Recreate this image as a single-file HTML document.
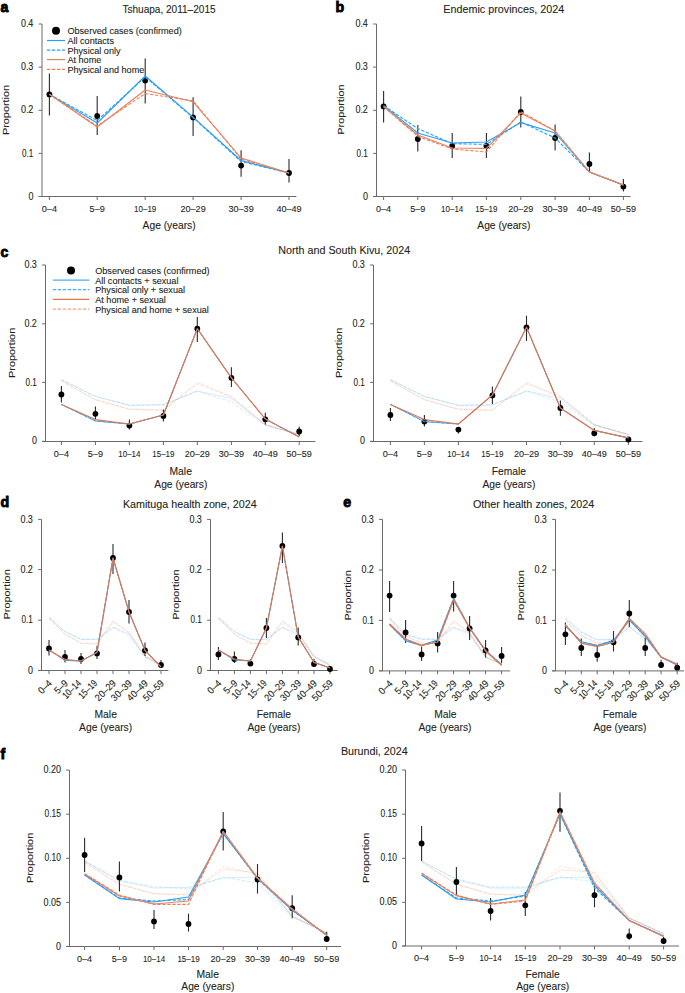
<!DOCTYPE html><html><head><meta charset="utf-8"><style>html,body{margin:0;padding:0;background:#fff;width:685px;height:993px;overflow:hidden}svg{display:block}text{font-family:"Liberation Sans",sans-serif;fill:#231f20;stroke:#231f20;stroke-width:0.1px}text.L{fill:#000;stroke:#000;stroke-width:0.85px}</style></head><body>
<svg width="685" height="993" viewBox="0 0 685 993">
<text x="0.60" y="11.60" font-size="14.2" font-weight="bold" fill="#000" class="L">a</text>
<text x="335.60" y="11.60" font-size="14.2" font-weight="bold" fill="#000" class="L">b</text>
<text x="0.60" y="257.40" font-size="14.2" font-weight="bold" fill="#000" class="L">c</text>
<text x="0.40" y="506.80" font-size="14.2" font-weight="bold" fill="#000" class="L">d</text>
<text x="343.20" y="506.80" font-size="14.2" font-weight="bold" fill="#000" class="L">e</text>
<text x="0.60" y="759.00" font-size="14.2" font-weight="bold" fill="#000" class="L">f</text>
<text x="169.00" y="13.00" font-size="10.8" text-anchor="middle" textLength="93.20" lengthAdjust="spacingAndGlyphs">Tshuapa, 2011–2015</text>
<text x="503.80" y="12.90" font-size="10.8" text-anchor="middle" textLength="121.00" lengthAdjust="spacingAndGlyphs">Endemic provinces, 2024</text>
<text x="344.20" y="254.30" font-size="10.8" text-anchor="middle" textLength="131.80" lengthAdjust="spacingAndGlyphs">North and South Kivu, 2024</text>
<text x="189.80" y="507.90" font-size="10.8" text-anchor="middle" textLength="133.80" lengthAdjust="spacingAndGlyphs">Kamituga health zone, 2024</text>
<text x="533.60" y="508.30" font-size="10.8" text-anchor="middle" textLength="121.40" lengthAdjust="spacingAndGlyphs">Other health zones, 2024</text>
<text x="374.30" y="754.60" font-size="10.8" text-anchor="middle" textLength="66.70" lengthAdjust="spacingAndGlyphs">Burundi, 2024</text>
<line x1="42.00" y1="24.00" x2="42.00" y2="196.50" stroke="#6a6a6a" stroke-width="1"/>
<line x1="38.60" y1="24.00" x2="42.00" y2="24.00" stroke="#6a6a6a" stroke-width="1"/>
<text x="33.40" y="27.10" font-size="10.1" text-anchor="end" textLength="12.51" lengthAdjust="spacingAndGlyphs">0.4</text>
<line x1="38.60" y1="67.10" x2="42.00" y2="67.10" stroke="#6a6a6a" stroke-width="1"/>
<text x="33.40" y="70.20" font-size="10.1" text-anchor="end" textLength="12.51" lengthAdjust="spacingAndGlyphs">0.3</text>
<line x1="38.60" y1="110.30" x2="42.00" y2="110.30" stroke="#6a6a6a" stroke-width="1"/>
<text x="33.40" y="113.40" font-size="10.1" text-anchor="end" textLength="12.51" lengthAdjust="spacingAndGlyphs">0.2</text>
<line x1="38.60" y1="153.40" x2="42.00" y2="153.40" stroke="#6a6a6a" stroke-width="1"/>
<text x="33.40" y="156.50" font-size="10.1" text-anchor="end" textLength="11.31" lengthAdjust="spacingAndGlyphs">0.1</text>
<line x1="38.60" y1="196.50" x2="42.00" y2="196.50" stroke="#6a6a6a" stroke-width="1"/>
<text x="33.40" y="199.60" font-size="10.1" text-anchor="end" textLength="5.00" lengthAdjust="spacingAndGlyphs">0</text>
<line x1="38.60" y1="196.50" x2="296.40" y2="196.50" stroke="#6a6a6a" stroke-width="1"/>
<line x1="49.40" y1="196.50" x2="49.40" y2="200.00" stroke="#6a6a6a" stroke-width="1"/>
<line x1="97.20" y1="196.50" x2="97.20" y2="200.00" stroke="#6a6a6a" stroke-width="1"/>
<line x1="145.20" y1="196.50" x2="145.20" y2="200.00" stroke="#6a6a6a" stroke-width="1"/>
<line x1="193.10" y1="196.50" x2="193.10" y2="200.00" stroke="#6a6a6a" stroke-width="1"/>
<line x1="241.10" y1="196.50" x2="241.10" y2="200.00" stroke="#6a6a6a" stroke-width="1"/>
<line x1="289.00" y1="196.50" x2="289.00" y2="200.00" stroke="#6a6a6a" stroke-width="1"/>
<text x="49.40" y="211.70" font-size="9.8" text-anchor="middle" textLength="15.21" lengthAdjust="spacingAndGlyphs">0–4</text>
<text x="97.20" y="211.70" font-size="9.8" text-anchor="middle" textLength="15.21" lengthAdjust="spacingAndGlyphs">5–9</text>
<text x="145.20" y="211.70" font-size="9.8" text-anchor="middle" textLength="22.22" lengthAdjust="spacingAndGlyphs">10–19</text>
<text x="193.10" y="211.70" font-size="9.8" text-anchor="middle" textLength="25.22" lengthAdjust="spacingAndGlyphs">20–29</text>
<text x="241.10" y="211.70" font-size="9.8" text-anchor="middle" textLength="25.22" lengthAdjust="spacingAndGlyphs">30–39</text>
<text x="289.00" y="211.70" font-size="9.8" text-anchor="middle" textLength="25.22" lengthAdjust="spacingAndGlyphs">40–49</text>
<text x="9.10" y="110.00" font-size="9.9" text-anchor="middle" textLength="50.20" lengthAdjust="spacingAndGlyphs" transform="rotate(-90 9.10 110.00)">Proportion</text>
<text x="169.10" y="228.60" font-size="10" text-anchor="middle" textLength="53.00" lengthAdjust="spacingAndGlyphs">Age (years)</text>
<line x1="49.40" y1="73.40" x2="49.40" y2="115.40" stroke="#2b2b2b" stroke-width="1.1"/>
<line x1="97.20" y1="96.10" x2="97.20" y2="134.90" stroke="#2b2b2b" stroke-width="1.1"/>
<line x1="145.20" y1="58.40" x2="145.20" y2="103.60" stroke="#2b2b2b" stroke-width="1.1"/>
<line x1="193.10" y1="97.20" x2="193.10" y2="136.00" stroke="#2b2b2b" stroke-width="1.1"/>
<line x1="241.10" y1="150.30" x2="241.10" y2="176.70" stroke="#2b2b2b" stroke-width="1.1"/>
<line x1="289.00" y1="159.00" x2="289.00" y2="182.40" stroke="#2b2b2b" stroke-width="1.1"/>
<circle cx="49.40" cy="94.40" r="2.9" fill="#000"/>
<circle cx="97.20" cy="116.00" r="2.9" fill="#000"/>
<circle cx="145.20" cy="80.60" r="2.9" fill="#000"/>
<circle cx="193.10" cy="117.40" r="2.9" fill="#000"/>
<circle cx="241.10" cy="165.60" r="2.9" fill="#000"/>
<circle cx="289.00" cy="173.00" r="2.9" fill="#000"/>
<polyline points="49.40,94.40 97.20,123.00 145.20,76.00 193.10,117.20 241.10,160.50 289.00,173.00" fill="none" stroke="#2a9ff0" stroke-width="1.1" stroke-linejoin="round"/>
<polyline points="49.40,94.40 97.20,120.50 145.20,77.00 193.10,117.60 241.10,161.50 289.00,173.00" fill="none" stroke="#2a9ff0" stroke-width="1.1" stroke-dasharray="3.4,1.6" stroke-linejoin="round"/>
<polyline points="49.40,94.40 97.20,127.00 145.20,90.00 193.10,101.80 241.10,158.00 289.00,173.00" fill="none" stroke="#e8805c" stroke-width="1.1" stroke-linejoin="round"/>
<polyline points="49.40,94.40 97.20,126.00 145.20,93.60 193.10,100.80 241.10,159.00 289.00,173.00" fill="none" stroke="#e8805c" stroke-width="1.1" stroke-dasharray="3.4,1.6" stroke-linejoin="round"/>
<circle cx="56" cy="30.8" r="4" fill="#000"/>
<text x="67.40" y="34.20" font-size="9" textLength="114.39" lengthAdjust="spacingAndGlyphs">Observed cases (confirmed)</text>
<line x1="47" y1="40.5" x2="65" y2="40.5" stroke="#2a9ff0" stroke-width="1.2"/>
<text x="67.40" y="43.90" font-size="9" textLength="46.57" lengthAdjust="spacingAndGlyphs">All contacts</text>
<line x1="47" y1="50.2" x2="65" y2="50.2" stroke="#2a9ff0" stroke-width="1.2" stroke-dasharray="3.4,1.6"/>
<text x="67.40" y="53.60" font-size="9" textLength="53.15" lengthAdjust="spacingAndGlyphs">Physical only</text>
<line x1="47" y1="59.6" x2="65" y2="59.6" stroke="#e8805c" stroke-width="1.2"/>
<text x="67.40" y="63.00" font-size="9" textLength="33.92" lengthAdjust="spacingAndGlyphs">At home</text>
<line x1="47" y1="69.4" x2="65" y2="69.4" stroke="#e8805c" stroke-width="1.2" stroke-dasharray="3.4,1.6"/>
<text x="67.40" y="72.80" font-size="9" textLength="76.95" lengthAdjust="spacingAndGlyphs">Physical and home</text>
<line x1="376.50" y1="24.00" x2="376.50" y2="196.50" stroke="#6a6a6a" stroke-width="1"/>
<line x1="373.10" y1="24.00" x2="376.50" y2="24.00" stroke="#6a6a6a" stroke-width="1"/>
<text x="367.90" y="27.10" font-size="10.1" text-anchor="end" textLength="12.51" lengthAdjust="spacingAndGlyphs">0.4</text>
<line x1="373.10" y1="67.10" x2="376.50" y2="67.10" stroke="#6a6a6a" stroke-width="1"/>
<text x="367.90" y="70.20" font-size="10.1" text-anchor="end" textLength="12.51" lengthAdjust="spacingAndGlyphs">0.3</text>
<line x1="373.10" y1="110.30" x2="376.50" y2="110.30" stroke="#6a6a6a" stroke-width="1"/>
<text x="367.90" y="113.40" font-size="10.1" text-anchor="end" textLength="12.51" lengthAdjust="spacingAndGlyphs">0.2</text>
<line x1="373.10" y1="153.40" x2="376.50" y2="153.40" stroke="#6a6a6a" stroke-width="1"/>
<text x="367.90" y="156.50" font-size="10.1" text-anchor="end" textLength="11.31" lengthAdjust="spacingAndGlyphs">0.1</text>
<line x1="373.10" y1="196.50" x2="376.50" y2="196.50" stroke="#6a6a6a" stroke-width="1"/>
<text x="367.90" y="199.60" font-size="10.1" text-anchor="end" textLength="5.00" lengthAdjust="spacingAndGlyphs">0</text>
<line x1="373.10" y1="196.50" x2="630.60" y2="196.50" stroke="#6a6a6a" stroke-width="1"/>
<line x1="383.60" y1="196.50" x2="383.60" y2="200.00" stroke="#6a6a6a" stroke-width="1"/>
<line x1="417.80" y1="196.50" x2="417.80" y2="200.00" stroke="#6a6a6a" stroke-width="1"/>
<line x1="452.20" y1="196.50" x2="452.20" y2="200.00" stroke="#6a6a6a" stroke-width="1"/>
<line x1="486.40" y1="196.50" x2="486.40" y2="200.00" stroke="#6a6a6a" stroke-width="1"/>
<line x1="520.80" y1="196.50" x2="520.80" y2="200.00" stroke="#6a6a6a" stroke-width="1"/>
<line x1="555.10" y1="196.50" x2="555.10" y2="200.00" stroke="#6a6a6a" stroke-width="1"/>
<line x1="589.40" y1="196.50" x2="589.40" y2="200.00" stroke="#6a6a6a" stroke-width="1"/>
<line x1="623.40" y1="196.50" x2="623.40" y2="200.00" stroke="#6a6a6a" stroke-width="1"/>
<text x="383.60" y="211.70" font-size="9.8" text-anchor="middle" textLength="15.21" lengthAdjust="spacingAndGlyphs">0–4</text>
<text x="417.80" y="211.70" font-size="9.8" text-anchor="middle" textLength="15.21" lengthAdjust="spacingAndGlyphs">5–9</text>
<text x="452.20" y="211.70" font-size="9.8" text-anchor="middle" textLength="22.22" lengthAdjust="spacingAndGlyphs">10–14</text>
<text x="486.40" y="211.70" font-size="9.8" text-anchor="middle" textLength="22.22" lengthAdjust="spacingAndGlyphs">15–19</text>
<text x="520.80" y="211.70" font-size="9.8" text-anchor="middle" textLength="25.22" lengthAdjust="spacingAndGlyphs">20–29</text>
<text x="555.10" y="211.70" font-size="9.8" text-anchor="middle" textLength="25.22" lengthAdjust="spacingAndGlyphs">30–39</text>
<text x="589.40" y="211.70" font-size="9.8" text-anchor="middle" textLength="25.22" lengthAdjust="spacingAndGlyphs">40–49</text>
<text x="623.40" y="211.70" font-size="9.8" text-anchor="middle" textLength="25.22" lengthAdjust="spacingAndGlyphs">50–59</text>
<text x="344.00" y="109.60" font-size="9.9" text-anchor="middle" textLength="50.20" lengthAdjust="spacingAndGlyphs" transform="rotate(-90 344.00 109.60)">Proportion</text>
<text x="503.80" y="228.60" font-size="10" text-anchor="middle" textLength="53.00" lengthAdjust="spacingAndGlyphs">Age (years)</text>
<line x1="383.60" y1="91.00" x2="383.60" y2="122.60" stroke="#2b2b2b" stroke-width="1.1"/>
<line x1="417.80" y1="125.00" x2="417.80" y2="151.60" stroke="#2b2b2b" stroke-width="1.1"/>
<line x1="452.20" y1="133.00" x2="452.20" y2="158.00" stroke="#2b2b2b" stroke-width="1.1"/>
<line x1="486.40" y1="133.00" x2="486.40" y2="158.00" stroke="#2b2b2b" stroke-width="1.1"/>
<line x1="520.80" y1="96.60" x2="520.80" y2="127.40" stroke="#2b2b2b" stroke-width="1.1"/>
<line x1="555.10" y1="124.40" x2="555.10" y2="150.40" stroke="#2b2b2b" stroke-width="1.1"/>
<line x1="589.40" y1="152.40" x2="589.40" y2="171.00" stroke="#2b2b2b" stroke-width="1.1"/>
<line x1="623.40" y1="179.00" x2="623.40" y2="191.60" stroke="#2b2b2b" stroke-width="1.1"/>
<circle cx="383.60" cy="106.40" r="2.9" fill="#000"/>
<circle cx="417.80" cy="139.00" r="2.9" fill="#000"/>
<circle cx="452.20" cy="146.00" r="2.9" fill="#000"/>
<circle cx="486.40" cy="146.00" r="2.9" fill="#000"/>
<circle cx="520.80" cy="112.00" r="2.9" fill="#000"/>
<circle cx="555.10" cy="138.00" r="2.9" fill="#000"/>
<circle cx="589.40" cy="164.00" r="2.9" fill="#000"/>
<circle cx="623.40" cy="186.60" r="2.9" fill="#000"/>
<polyline points="383.60,105.60 417.80,133.00 452.20,143.00 486.40,142.00 520.80,122.60 555.10,133.00 589.40,172.00 623.40,185.00" fill="none" stroke="#2a9ff0" stroke-width="1.1" stroke-linejoin="round"/>
<polyline points="383.60,105.60 417.80,128.60 452.20,143.60 486.40,144.40 520.80,122.00 555.10,138.00 589.40,172.00 623.40,185.00" fill="none" stroke="#2a9ff0" stroke-width="1.1" stroke-dasharray="3.4,1.6" stroke-linejoin="round"/>
<polyline points="383.60,106.60 417.80,135.00 452.20,148.00 486.40,148.40 520.80,113.00 555.10,131.00 589.40,172.00 623.40,185.00" fill="none" stroke="#e8805c" stroke-width="1.1" stroke-linejoin="round"/>
<polyline points="383.60,106.60 417.80,136.40 452.20,149.00 486.40,152.00 520.80,111.60 555.10,131.00 589.40,172.00 623.40,185.00" fill="none" stroke="#e8805c" stroke-width="1.1" stroke-dasharray="3.4,1.6" stroke-linejoin="round"/>
<line x1="45.50" y1="265.00" x2="45.50" y2="441.50" stroke="#6a6a6a" stroke-width="1"/>
<line x1="42.10" y1="265.00" x2="45.50" y2="265.00" stroke="#6a6a6a" stroke-width="1"/>
<text x="36.90" y="268.10" font-size="10.1" text-anchor="end" textLength="12.51" lengthAdjust="spacingAndGlyphs">0.3</text>
<line x1="42.10" y1="323.80" x2="45.50" y2="323.80" stroke="#6a6a6a" stroke-width="1"/>
<text x="36.90" y="326.90" font-size="10.1" text-anchor="end" textLength="12.51" lengthAdjust="spacingAndGlyphs">0.2</text>
<line x1="42.10" y1="382.40" x2="45.50" y2="382.40" stroke="#6a6a6a" stroke-width="1"/>
<text x="36.90" y="385.50" font-size="10.1" text-anchor="end" textLength="11.31" lengthAdjust="spacingAndGlyphs">0.1</text>
<line x1="42.10" y1="441.30" x2="45.50" y2="441.30" stroke="#6a6a6a" stroke-width="1"/>
<text x="36.90" y="444.40" font-size="10.1" text-anchor="end" textLength="5.00" lengthAdjust="spacingAndGlyphs">0</text>
<line x1="42.10" y1="441.50" x2="315.30" y2="441.50" stroke="#6a6a6a" stroke-width="1"/>
<line x1="61.40" y1="441.50" x2="61.40" y2="445.00" stroke="#6a6a6a" stroke-width="1"/>
<line x1="95.40" y1="441.50" x2="95.40" y2="445.00" stroke="#6a6a6a" stroke-width="1"/>
<line x1="129.40" y1="441.50" x2="129.40" y2="445.00" stroke="#6a6a6a" stroke-width="1"/>
<line x1="163.40" y1="441.50" x2="163.40" y2="445.00" stroke="#6a6a6a" stroke-width="1"/>
<line x1="197.30" y1="441.50" x2="197.30" y2="445.00" stroke="#6a6a6a" stroke-width="1"/>
<line x1="231.40" y1="441.50" x2="231.40" y2="445.00" stroke="#6a6a6a" stroke-width="1"/>
<line x1="265.30" y1="441.50" x2="265.30" y2="445.00" stroke="#6a6a6a" stroke-width="1"/>
<line x1="299.20" y1="441.50" x2="299.20" y2="445.00" stroke="#6a6a6a" stroke-width="1"/>
<text x="61.40" y="456.70" font-size="9.8" text-anchor="middle" textLength="15.21" lengthAdjust="spacingAndGlyphs">0–4</text>
<text x="95.40" y="456.70" font-size="9.8" text-anchor="middle" textLength="15.21" lengthAdjust="spacingAndGlyphs">5–9</text>
<text x="129.40" y="456.70" font-size="9.8" text-anchor="middle" textLength="22.22" lengthAdjust="spacingAndGlyphs">10–14</text>
<text x="163.40" y="456.70" font-size="9.8" text-anchor="middle" textLength="22.22" lengthAdjust="spacingAndGlyphs">15–19</text>
<text x="197.30" y="456.70" font-size="9.8" text-anchor="middle" textLength="25.22" lengthAdjust="spacingAndGlyphs">20–29</text>
<text x="231.40" y="456.70" font-size="9.8" text-anchor="middle" textLength="25.22" lengthAdjust="spacingAndGlyphs">30–39</text>
<text x="265.30" y="456.70" font-size="9.8" text-anchor="middle" textLength="25.22" lengthAdjust="spacingAndGlyphs">40–49</text>
<text x="299.20" y="456.70" font-size="9.8" text-anchor="middle" textLength="25.22" lengthAdjust="spacingAndGlyphs">50–59</text>
<text x="14.70" y="352.90" font-size="9.9" text-anchor="middle" textLength="50.20" lengthAdjust="spacingAndGlyphs" transform="rotate(-90 14.70 352.90)">Proportion</text>
<text x="180.70" y="475.00" font-size="10" text-anchor="middle" textLength="22.40" lengthAdjust="spacingAndGlyphs">Male</text>
<text x="180.80" y="487.90" font-size="10" text-anchor="middle" textLength="53.00" lengthAdjust="spacingAndGlyphs">Age (years)</text>
<polyline points="61.40,379.60 95.40,396.60 129.40,405.30 163.40,404.80 197.30,391.00 231.40,398.50 265.30,425.00 299.20,434.50" fill="none" stroke="#2a9ff0" stroke-width="1.0" stroke-opacity="0.2" stroke-linejoin="round"/>
<polyline points="61.40,379.60 95.40,396.20 129.40,405.30 163.40,404.80 197.30,391.00 231.40,402.00 265.30,425.50 299.20,434.50" fill="none" stroke="#2a9ff0" stroke-width="1.0" stroke-dasharray="3.4,1.6" stroke-opacity="0.2" stroke-linejoin="round"/>
<polyline points="61.40,380.80 95.40,399.50 129.40,409.00 163.40,410.00 197.30,382.60 231.40,396.50 265.30,424.50 299.20,434.50" fill="none" stroke="#e8805c" stroke-width="1.0" stroke-opacity="0.2" stroke-linejoin="round"/>
<polyline points="61.40,380.80 95.40,400.00 129.40,409.50 163.40,410.50 197.30,384.00 231.40,397.00 265.30,424.50 299.20,434.50" fill="none" stroke="#e8805c" stroke-width="1.0" stroke-dasharray="3.4,1.6" stroke-opacity="0.2" stroke-linejoin="round"/>
<line x1="61.40" y1="386.00" x2="61.40" y2="402.40" stroke="#2b2b2b" stroke-width="1.1"/>
<line x1="95.40" y1="406.40" x2="95.40" y2="420.00" stroke="#2b2b2b" stroke-width="1.1"/>
<line x1="129.40" y1="419.60" x2="129.40" y2="429.60" stroke="#2b2b2b" stroke-width="1.1"/>
<line x1="163.40" y1="409.60" x2="163.40" y2="421.60" stroke="#2b2b2b" stroke-width="1.1"/>
<line x1="197.30" y1="317.00" x2="197.30" y2="342.00" stroke="#2b2b2b" stroke-width="1.1"/>
<line x1="231.40" y1="367.20" x2="231.40" y2="387.00" stroke="#2b2b2b" stroke-width="1.1"/>
<line x1="265.30" y1="412.80" x2="265.30" y2="424.50" stroke="#2b2b2b" stroke-width="1.1"/>
<line x1="299.20" y1="426.80" x2="299.20" y2="436.00" stroke="#2b2b2b" stroke-width="1.1"/>
<circle cx="61.40" cy="394.50" r="2.9" fill="#000"/>
<circle cx="95.40" cy="413.80" r="2.9" fill="#000"/>
<circle cx="129.40" cy="425.60" r="2.9" fill="#000"/>
<circle cx="163.40" cy="416.00" r="2.9" fill="#000"/>
<circle cx="197.30" cy="328.70" r="2.9" fill="#000"/>
<circle cx="231.40" cy="377.80" r="2.9" fill="#000"/>
<circle cx="265.30" cy="419.30" r="2.9" fill="#000"/>
<circle cx="299.20" cy="431.50" r="2.9" fill="#000"/>
<polyline points="61.40,404.40 95.40,421.00 129.40,424.00 163.40,415.00 197.30,328.70 231.40,377.80 265.30,419.00 299.20,436.90" fill="none" stroke="#2a9ff0" stroke-width="0.85" stroke-dasharray="3.4,1.6" stroke-linejoin="round"/>
<polyline points="61.40,404.40 95.40,421.00 129.40,424.00 163.40,415.00 197.30,328.70 231.40,377.80 265.30,419.00 299.20,436.90" fill="none" stroke="#2a9ff0" stroke-width="0.85" stroke-linejoin="round"/>
<polyline points="61.40,404.40 95.40,419.60 129.40,424.00 163.40,415.00 197.30,328.70 231.40,377.80 265.30,419.00 299.20,436.90" fill="none" stroke="#e2764f" stroke-width="1.15" stroke-linejoin="round"/>
<line x1="373.50" y1="265.00" x2="373.50" y2="441.50" stroke="#6a6a6a" stroke-width="1"/>
<line x1="370.10" y1="265.00" x2="373.50" y2="265.00" stroke="#6a6a6a" stroke-width="1"/>
<text x="364.90" y="268.10" font-size="10.1" text-anchor="end" textLength="12.51" lengthAdjust="spacingAndGlyphs">0.3</text>
<line x1="370.10" y1="323.80" x2="373.50" y2="323.80" stroke="#6a6a6a" stroke-width="1"/>
<text x="364.90" y="326.90" font-size="10.1" text-anchor="end" textLength="12.51" lengthAdjust="spacingAndGlyphs">0.2</text>
<line x1="370.10" y1="382.40" x2="373.50" y2="382.40" stroke="#6a6a6a" stroke-width="1"/>
<text x="364.90" y="385.50" font-size="10.1" text-anchor="end" textLength="11.31" lengthAdjust="spacingAndGlyphs">0.1</text>
<line x1="370.10" y1="441.30" x2="373.50" y2="441.30" stroke="#6a6a6a" stroke-width="1"/>
<text x="364.90" y="444.40" font-size="10.1" text-anchor="end" textLength="5.00" lengthAdjust="spacingAndGlyphs">0</text>
<line x1="370.10" y1="441.50" x2="642.50" y2="441.50" stroke="#6a6a6a" stroke-width="1"/>
<line x1="390.40" y1="441.50" x2="390.40" y2="445.00" stroke="#6a6a6a" stroke-width="1"/>
<line x1="424.40" y1="441.50" x2="424.40" y2="445.00" stroke="#6a6a6a" stroke-width="1"/>
<line x1="458.40" y1="441.50" x2="458.40" y2="445.00" stroke="#6a6a6a" stroke-width="1"/>
<line x1="492.40" y1="441.50" x2="492.40" y2="445.00" stroke="#6a6a6a" stroke-width="1"/>
<line x1="526.50" y1="441.50" x2="526.50" y2="445.00" stroke="#6a6a6a" stroke-width="1"/>
<line x1="560.40" y1="441.50" x2="560.40" y2="445.00" stroke="#6a6a6a" stroke-width="1"/>
<line x1="594.30" y1="441.50" x2="594.30" y2="445.00" stroke="#6a6a6a" stroke-width="1"/>
<line x1="628.40" y1="441.50" x2="628.40" y2="445.00" stroke="#6a6a6a" stroke-width="1"/>
<text x="390.40" y="456.70" font-size="9.8" text-anchor="middle" textLength="15.21" lengthAdjust="spacingAndGlyphs">0–4</text>
<text x="424.40" y="456.70" font-size="9.8" text-anchor="middle" textLength="15.21" lengthAdjust="spacingAndGlyphs">5–9</text>
<text x="458.40" y="456.70" font-size="9.8" text-anchor="middle" textLength="22.22" lengthAdjust="spacingAndGlyphs">10–14</text>
<text x="492.40" y="456.70" font-size="9.8" text-anchor="middle" textLength="22.22" lengthAdjust="spacingAndGlyphs">15–19</text>
<text x="526.50" y="456.70" font-size="9.8" text-anchor="middle" textLength="25.22" lengthAdjust="spacingAndGlyphs">20–29</text>
<text x="560.40" y="456.70" font-size="9.8" text-anchor="middle" textLength="25.22" lengthAdjust="spacingAndGlyphs">30–39</text>
<text x="594.30" y="456.70" font-size="9.8" text-anchor="middle" textLength="25.22" lengthAdjust="spacingAndGlyphs">40–49</text>
<text x="628.40" y="456.70" font-size="9.8" text-anchor="middle" textLength="25.22" lengthAdjust="spacingAndGlyphs">50–59</text>
<text x="342.30" y="352.90" font-size="9.9" text-anchor="middle" textLength="50.20" lengthAdjust="spacingAndGlyphs" transform="rotate(-90 342.30 352.90)">Proportion</text>
<text x="508.90" y="474.90" font-size="10" text-anchor="middle" textLength="34.20" lengthAdjust="spacingAndGlyphs">Female</text>
<text x="508.90" y="488.00" font-size="10" text-anchor="middle" textLength="53.00" lengthAdjust="spacingAndGlyphs">Age (years)</text>
<polyline points="390.40,379.60 424.40,396.60 458.40,405.30 492.40,404.80 526.50,391.00 560.40,398.50 594.30,425.00 628.40,434.50" fill="none" stroke="#2a9ff0" stroke-width="1.0" stroke-opacity="0.2" stroke-linejoin="round"/>
<polyline points="390.40,379.60 424.40,396.20 458.40,405.30 492.40,404.80 526.50,391.00 560.40,402.00 594.30,425.50 628.40,434.50" fill="none" stroke="#2a9ff0" stroke-width="1.0" stroke-dasharray="3.4,1.6" stroke-opacity="0.2" stroke-linejoin="round"/>
<polyline points="390.40,380.80 424.40,399.50 458.40,409.00 492.40,410.00 526.50,382.60 560.40,396.50 594.30,424.50 628.40,434.50" fill="none" stroke="#e8805c" stroke-width="1.0" stroke-opacity="0.2" stroke-linejoin="round"/>
<polyline points="390.40,380.80 424.40,400.00 458.40,409.50 492.40,410.50 526.50,384.00 560.40,397.00 594.30,424.50 628.40,434.50" fill="none" stroke="#e8805c" stroke-width="1.0" stroke-dasharray="3.4,1.6" stroke-opacity="0.2" stroke-linejoin="round"/>
<line x1="390.40" y1="408.00" x2="390.40" y2="421.00" stroke="#2b2b2b" stroke-width="1.1"/>
<line x1="424.40" y1="415.00" x2="424.40" y2="426.60" stroke="#2b2b2b" stroke-width="1.1"/>
<line x1="458.40" y1="427.00" x2="458.40" y2="433.60" stroke="#2b2b2b" stroke-width="1.1"/>
<line x1="492.40" y1="386.40" x2="492.40" y2="404.00" stroke="#2b2b2b" stroke-width="1.1"/>
<line x1="526.50" y1="315.70" x2="526.50" y2="340.90" stroke="#2b2b2b" stroke-width="1.1"/>
<line x1="560.40" y1="400.50" x2="560.40" y2="415.70" stroke="#2b2b2b" stroke-width="1.1"/>
<line x1="594.30" y1="428.00" x2="594.30" y2="436.50" stroke="#2b2b2b" stroke-width="1.1"/>
<line x1="628.40" y1="437.50" x2="628.40" y2="441.00" stroke="#2b2b2b" stroke-width="1.1"/>
<circle cx="390.40" cy="415.00" r="2.9" fill="#000"/>
<circle cx="424.40" cy="421.60" r="2.9" fill="#000"/>
<circle cx="458.40" cy="429.60" r="2.9" fill="#000"/>
<circle cx="492.40" cy="395.40" r="2.9" fill="#000"/>
<circle cx="526.50" cy="327.30" r="2.9" fill="#000"/>
<circle cx="560.40" cy="408.00" r="2.9" fill="#000"/>
<circle cx="594.30" cy="433.20" r="2.9" fill="#000"/>
<circle cx="628.40" cy="439.50" r="2.9" fill="#000"/>
<polyline points="390.40,404.40 424.40,421.60 458.40,424.00 492.40,395.00 526.50,327.30 560.40,408.00 594.30,430.40 628.40,437.90" fill="none" stroke="#2a9ff0" stroke-width="0.85" stroke-dasharray="3.4,1.6" stroke-linejoin="round"/>
<polyline points="390.40,404.40 424.40,421.60 458.40,424.00 492.40,395.00 526.50,327.30 560.40,408.00 594.30,430.40 628.40,437.90" fill="none" stroke="#2a9ff0" stroke-width="0.85" stroke-linejoin="round"/>
<polyline points="390.40,404.40 424.40,419.60 458.40,424.00 492.40,395.00 526.50,327.30 560.40,408.00 594.30,430.40 628.40,437.90" fill="none" stroke="#e2764f" stroke-width="1.15" stroke-linejoin="round"/>
<circle cx="71" cy="270.5" r="4" fill="#000"/>
<text x="95.20" y="273.90" font-size="9" textLength="114.39" lengthAdjust="spacingAndGlyphs">Observed cases (confirmed)</text>
<line x1="52.8" y1="280.2" x2="89.4" y2="280.2" stroke="#2a9ff0" stroke-width="1.2" stroke-opacity="0.85"/>
<text x="95.20" y="283.60" font-size="9" textLength="83.28" lengthAdjust="spacingAndGlyphs">All contacts + sexual</text>
<line x1="52.8" y1="289.7" x2="89.4" y2="289.7" stroke="#2a9ff0" stroke-width="1.2" stroke-dasharray="3.4,1.6" stroke-opacity="0.85"/>
<text x="95.20" y="293.10" font-size="9" textLength="89.86" lengthAdjust="spacingAndGlyphs">Physical only + sexual</text>
<line x1="52.8" y1="299.4" x2="89.4" y2="299.4" stroke="#e2764f" stroke-width="1.2"/>
<text x="95.20" y="302.80" font-size="9" textLength="70.62" lengthAdjust="spacingAndGlyphs">At home + sexual</text>
<line x1="52.8" y1="309.1" x2="89.4" y2="309.1" stroke="#e8805c" stroke-width="1.2" stroke-dasharray="3.4,1.6" stroke-opacity="0.72"/>
<text x="95.20" y="312.50" font-size="9" textLength="113.66" lengthAdjust="spacingAndGlyphs">Physical and home + sexual</text>
<line x1="41.50" y1="519.40" x2="41.50" y2="670.50" stroke="#6a6a6a" stroke-width="1"/>
<line x1="38.10" y1="519.40" x2="41.50" y2="519.40" stroke="#6a6a6a" stroke-width="1"/>
<text x="32.90" y="522.50" font-size="10.1" text-anchor="end" textLength="12.51" lengthAdjust="spacingAndGlyphs">0.3</text>
<line x1="38.10" y1="569.60" x2="41.50" y2="569.60" stroke="#6a6a6a" stroke-width="1"/>
<text x="32.90" y="572.70" font-size="10.1" text-anchor="end" textLength="12.51" lengthAdjust="spacingAndGlyphs">0.2</text>
<line x1="38.10" y1="620.20" x2="41.50" y2="620.20" stroke="#6a6a6a" stroke-width="1"/>
<text x="32.90" y="623.30" font-size="10.1" text-anchor="end" textLength="11.31" lengthAdjust="spacingAndGlyphs">0.1</text>
<line x1="38.10" y1="670.40" x2="41.50" y2="670.40" stroke="#6a6a6a" stroke-width="1"/>
<text x="32.90" y="673.50" font-size="10.1" text-anchor="end" textLength="5.00" lengthAdjust="spacingAndGlyphs">0</text>
<line x1="38.10" y1="670.50" x2="168.40" y2="670.50" stroke="#6a6a6a" stroke-width="1"/>
<line x1="49.00" y1="670.50" x2="49.00" y2="674.00" stroke="#6a6a6a" stroke-width="1"/>
<line x1="65.00" y1="670.50" x2="65.00" y2="674.00" stroke="#6a6a6a" stroke-width="1"/>
<line x1="81.00" y1="670.50" x2="81.00" y2="674.00" stroke="#6a6a6a" stroke-width="1"/>
<line x1="97.00" y1="670.50" x2="97.00" y2="674.00" stroke="#6a6a6a" stroke-width="1"/>
<line x1="113.00" y1="670.50" x2="113.00" y2="674.00" stroke="#6a6a6a" stroke-width="1"/>
<line x1="129.00" y1="670.50" x2="129.00" y2="674.00" stroke="#6a6a6a" stroke-width="1"/>
<line x1="145.00" y1="670.50" x2="145.00" y2="674.00" stroke="#6a6a6a" stroke-width="1"/>
<line x1="161.00" y1="670.50" x2="161.00" y2="674.00" stroke="#6a6a6a" stroke-width="1"/>
<text x="52.70" y="683.80" font-size="9.8" text-anchor="end" textLength="15.21" lengthAdjust="spacingAndGlyphs" transform="rotate(-45 52.70 683.80)">0–4</text>
<text x="68.70" y="683.80" font-size="9.8" text-anchor="end" textLength="15.21" lengthAdjust="spacingAndGlyphs" transform="rotate(-45 68.70 683.80)">5–9</text>
<text x="81.90" y="683.80" font-size="9.8" text-anchor="end" textLength="22.22" lengthAdjust="spacingAndGlyphs" transform="rotate(-45 81.90 683.80)">10–14</text>
<text x="97.90" y="683.80" font-size="9.8" text-anchor="end" textLength="22.22" lengthAdjust="spacingAndGlyphs" transform="rotate(-45 97.90 683.80)">15–19</text>
<text x="116.70" y="683.80" font-size="9.8" text-anchor="end" textLength="25.22" lengthAdjust="spacingAndGlyphs" transform="rotate(-45 116.70 683.80)">20–29</text>
<text x="132.70" y="683.80" font-size="9.8" text-anchor="end" textLength="25.22" lengthAdjust="spacingAndGlyphs" transform="rotate(-45 132.70 683.80)">30–39</text>
<text x="148.70" y="683.80" font-size="9.8" text-anchor="end" textLength="25.22" lengthAdjust="spacingAndGlyphs" transform="rotate(-45 148.70 683.80)">40–49</text>
<text x="164.70" y="683.80" font-size="9.8" text-anchor="end" textLength="25.22" lengthAdjust="spacingAndGlyphs" transform="rotate(-45 164.70 683.80)">50–59</text>
<text x="10.20" y="594.40" font-size="9.9" text-anchor="middle" textLength="50.20" lengthAdjust="spacingAndGlyphs" transform="rotate(-90 10.20 594.40)">Proportion</text>
<text x="105.70" y="718.40" font-size="10" text-anchor="middle" textLength="22.40" lengthAdjust="spacingAndGlyphs">Male</text>
<text x="105.60" y="731.20" font-size="10" text-anchor="middle" textLength="53.00" lengthAdjust="spacingAndGlyphs">Age (years)</text>
<polyline points="49.00,617.40 65.00,631.30 81.00,639.20 97.00,639.20 113.00,627.40 129.00,633.80 145.00,656.80 161.00,665.60" fill="none" stroke="#2a9ff0" stroke-width="1.0" stroke-opacity="0.2" stroke-linejoin="round"/>
<polyline points="49.00,617.40 65.00,632.00 81.00,639.60 97.00,639.60 113.00,627.40 129.00,636.00 145.00,657.00 161.00,665.60" fill="none" stroke="#2a9ff0" stroke-width="1.0" stroke-dasharray="3.4,1.6" stroke-opacity="0.2" stroke-linejoin="round"/>
<polyline points="49.00,618.50 65.00,634.00 81.00,643.00 97.00,643.80 113.00,621.00 129.00,632.20 145.00,656.00 161.00,664.50" fill="none" stroke="#e8805c" stroke-width="1.0" stroke-opacity="0.2" stroke-linejoin="round"/>
<polyline points="49.00,618.50 65.00,634.30 81.00,643.50 97.00,644.30 113.00,622.00 129.00,632.60 145.00,656.00 161.00,664.50" fill="none" stroke="#e8805c" stroke-width="1.0" stroke-dasharray="3.4,1.6" stroke-opacity="0.2" stroke-linejoin="round"/>
<line x1="49.00" y1="640.00" x2="49.00" y2="655.60" stroke="#2b2b2b" stroke-width="1.1"/>
<line x1="65.00" y1="650.00" x2="65.00" y2="662.40" stroke="#2b2b2b" stroke-width="1.1"/>
<line x1="81.00" y1="653.00" x2="81.00" y2="664.00" stroke="#2b2b2b" stroke-width="1.1"/>
<line x1="97.00" y1="646.00" x2="97.00" y2="659.00" stroke="#2b2b2b" stroke-width="1.1"/>
<line x1="113.00" y1="544.00" x2="113.00" y2="574.00" stroke="#2b2b2b" stroke-width="1.1"/>
<line x1="129.00" y1="600.00" x2="129.00" y2="623.60" stroke="#2b2b2b" stroke-width="1.1"/>
<line x1="145.00" y1="642.40" x2="145.00" y2="656.00" stroke="#2b2b2b" stroke-width="1.1"/>
<line x1="161.00" y1="660.00" x2="161.00" y2="668.00" stroke="#2b2b2b" stroke-width="1.1"/>
<circle cx="49.00" cy="648.40" r="2.9" fill="#000"/>
<circle cx="65.00" cy="657.00" r="2.9" fill="#000"/>
<circle cx="81.00" cy="659.00" r="2.9" fill="#000"/>
<circle cx="97.00" cy="653.40" r="2.9" fill="#000"/>
<circle cx="113.00" cy="558.00" r="2.9" fill="#000"/>
<circle cx="129.00" cy="612.00" r="2.9" fill="#000"/>
<circle cx="145.00" cy="650.40" r="2.9" fill="#000"/>
<circle cx="161.00" cy="665.00" r="2.9" fill="#000"/>
<polyline points="49.00,650.00 65.00,660.40 81.00,661.00 97.00,652.40 113.00,558.00 129.00,612.00 145.00,650.40 161.00,667.00" fill="none" stroke="#2a9ff0" stroke-width="0.85" stroke-dasharray="3.4,1.6" stroke-linejoin="round"/>
<polyline points="49.00,650.00 65.00,660.40 81.00,661.00 97.00,652.40 113.00,558.00 129.00,612.00 145.00,650.40 161.00,667.00" fill="none" stroke="#2a9ff0" stroke-width="0.85" stroke-linejoin="round"/>
<polyline points="49.00,650.00 65.00,659.40 81.00,661.00 97.00,652.40 113.00,558.00 129.00,612.00 145.00,650.40 161.00,667.00" fill="none" stroke="#e2764f" stroke-width="1.15" stroke-linejoin="round"/>
<line x1="210.50" y1="519.40" x2="210.50" y2="670.50" stroke="#6a6a6a" stroke-width="1"/>
<line x1="207.10" y1="519.40" x2="210.50" y2="519.40" stroke="#6a6a6a" stroke-width="1"/>
<text x="201.90" y="522.50" font-size="10.1" text-anchor="end" textLength="12.51" lengthAdjust="spacingAndGlyphs">0.3</text>
<line x1="207.10" y1="569.60" x2="210.50" y2="569.60" stroke="#6a6a6a" stroke-width="1"/>
<text x="201.90" y="572.70" font-size="10.1" text-anchor="end" textLength="12.51" lengthAdjust="spacingAndGlyphs">0.2</text>
<line x1="207.10" y1="620.20" x2="210.50" y2="620.20" stroke="#6a6a6a" stroke-width="1"/>
<text x="201.90" y="623.30" font-size="10.1" text-anchor="end" textLength="11.31" lengthAdjust="spacingAndGlyphs">0.1</text>
<line x1="207.10" y1="670.40" x2="210.50" y2="670.40" stroke="#6a6a6a" stroke-width="1"/>
<text x="201.90" y="673.50" font-size="10.1" text-anchor="end" textLength="5.00" lengthAdjust="spacingAndGlyphs">0</text>
<line x1="207.10" y1="670.50" x2="337.60" y2="670.50" stroke="#6a6a6a" stroke-width="1"/>
<line x1="218.40" y1="670.50" x2="218.40" y2="674.00" stroke="#6a6a6a" stroke-width="1"/>
<line x1="234.40" y1="670.50" x2="234.40" y2="674.00" stroke="#6a6a6a" stroke-width="1"/>
<line x1="250.40" y1="670.50" x2="250.40" y2="674.00" stroke="#6a6a6a" stroke-width="1"/>
<line x1="266.40" y1="670.50" x2="266.40" y2="674.00" stroke="#6a6a6a" stroke-width="1"/>
<line x1="282.40" y1="670.50" x2="282.40" y2="674.00" stroke="#6a6a6a" stroke-width="1"/>
<line x1="298.20" y1="670.50" x2="298.20" y2="674.00" stroke="#6a6a6a" stroke-width="1"/>
<line x1="314.00" y1="670.50" x2="314.00" y2="674.00" stroke="#6a6a6a" stroke-width="1"/>
<line x1="330.00" y1="670.50" x2="330.00" y2="674.00" stroke="#6a6a6a" stroke-width="1"/>
<text x="222.10" y="683.80" font-size="9.8" text-anchor="end" textLength="15.21" lengthAdjust="spacingAndGlyphs" transform="rotate(-45 222.10 683.80)">0–4</text>
<text x="238.10" y="683.80" font-size="9.8" text-anchor="end" textLength="15.21" lengthAdjust="spacingAndGlyphs" transform="rotate(-45 238.10 683.80)">5–9</text>
<text x="251.30" y="683.80" font-size="9.8" text-anchor="end" textLength="22.22" lengthAdjust="spacingAndGlyphs" transform="rotate(-45 251.30 683.80)">10–14</text>
<text x="267.30" y="683.80" font-size="9.8" text-anchor="end" textLength="22.22" lengthAdjust="spacingAndGlyphs" transform="rotate(-45 267.30 683.80)">15–19</text>
<text x="286.10" y="683.80" font-size="9.8" text-anchor="end" textLength="25.22" lengthAdjust="spacingAndGlyphs" transform="rotate(-45 286.10 683.80)">20–29</text>
<text x="301.90" y="683.80" font-size="9.8" text-anchor="end" textLength="25.22" lengthAdjust="spacingAndGlyphs" transform="rotate(-45 301.90 683.80)">30–39</text>
<text x="317.70" y="683.80" font-size="9.8" text-anchor="end" textLength="25.22" lengthAdjust="spacingAndGlyphs" transform="rotate(-45 317.70 683.80)">40–49</text>
<text x="333.70" y="683.80" font-size="9.8" text-anchor="end" textLength="25.22" lengthAdjust="spacingAndGlyphs" transform="rotate(-45 333.70 683.80)">50–59</text>
<text x="178.80" y="594.60" font-size="9.9" text-anchor="middle" textLength="50.20" lengthAdjust="spacingAndGlyphs" transform="rotate(-90 178.80 594.60)">Proportion</text>
<text x="273.90" y="718.40" font-size="10" text-anchor="middle" textLength="34.20" lengthAdjust="spacingAndGlyphs">Female</text>
<text x="273.90" y="731.20" font-size="10" text-anchor="middle" textLength="53.00" lengthAdjust="spacingAndGlyphs">Age (years)</text>
<polyline points="218.40,617.40 234.40,631.30 250.40,639.20 266.40,639.20 282.40,627.40 298.20,633.80 314.00,656.80 330.00,665.60" fill="none" stroke="#2a9ff0" stroke-width="1.0" stroke-opacity="0.2" stroke-linejoin="round"/>
<polyline points="218.40,617.40 234.40,632.00 250.40,639.60 266.40,639.60 282.40,627.40 298.20,636.00 314.00,657.00 330.00,665.60" fill="none" stroke="#2a9ff0" stroke-width="1.0" stroke-dasharray="3.4,1.6" stroke-opacity="0.2" stroke-linejoin="round"/>
<polyline points="218.40,618.50 234.40,634.00 250.40,643.00 266.40,643.80 282.40,621.00 298.20,632.20 314.00,656.00 330.00,664.50" fill="none" stroke="#e8805c" stroke-width="1.0" stroke-opacity="0.2" stroke-linejoin="round"/>
<polyline points="218.40,618.50 234.40,634.30 250.40,643.50 266.40,644.30 282.40,622.00 298.20,632.60 314.00,656.00 330.00,664.50" fill="none" stroke="#e8805c" stroke-width="1.0" stroke-dasharray="3.4,1.6" stroke-opacity="0.2" stroke-linejoin="round"/>
<line x1="218.40" y1="647.00" x2="218.40" y2="660.00" stroke="#2b2b2b" stroke-width="1.1"/>
<line x1="234.40" y1="651.60" x2="234.40" y2="663.00" stroke="#2b2b2b" stroke-width="1.1"/>
<line x1="250.40" y1="659.00" x2="250.40" y2="666.00" stroke="#2b2b2b" stroke-width="1.1"/>
<line x1="266.40" y1="618.00" x2="266.40" y2="638.00" stroke="#2b2b2b" stroke-width="1.1"/>
<line x1="282.40" y1="532.40" x2="282.40" y2="563.00" stroke="#2b2b2b" stroke-width="1.1"/>
<line x1="298.20" y1="627.40" x2="298.20" y2="645.60" stroke="#2b2b2b" stroke-width="1.1"/>
<line x1="314.00" y1="659.00" x2="314.00" y2="666.40" stroke="#2b2b2b" stroke-width="1.1"/>
<line x1="330.00" y1="666.00" x2="330.00" y2="670.00" stroke="#2b2b2b" stroke-width="1.1"/>
<circle cx="218.40" cy="654.40" r="2.9" fill="#000"/>
<circle cx="234.40" cy="659.00" r="2.9" fill="#000"/>
<circle cx="250.40" cy="663.60" r="2.9" fill="#000"/>
<circle cx="266.40" cy="628.00" r="2.9" fill="#000"/>
<circle cx="282.40" cy="546.00" r="2.9" fill="#000"/>
<circle cx="298.20" cy="637.40" r="2.9" fill="#000"/>
<circle cx="314.00" cy="664.00" r="2.9" fill="#000"/>
<circle cx="330.00" cy="669.00" r="2.9" fill="#000"/>
<polyline points="218.40,650.00 234.40,660.00 250.40,661.00 266.40,628.00 282.40,546.00 298.20,637.00 314.00,662.40 330.00,668.00" fill="none" stroke="#2a9ff0" stroke-width="0.85" stroke-dasharray="3.4,1.6" stroke-linejoin="round"/>
<polyline points="218.40,650.00 234.40,660.00 250.40,661.00 266.40,628.00 282.40,546.00 298.20,637.00 314.00,662.40 330.00,668.00" fill="none" stroke="#2a9ff0" stroke-width="0.85" stroke-linejoin="round"/>
<polyline points="218.40,650.00 234.40,659.00 250.40,661.00 266.40,628.00 282.40,546.00 298.20,637.00 314.00,662.40 330.00,668.00" fill="none" stroke="#e2764f" stroke-width="1.15" stroke-linejoin="round"/>
<line x1="382.50" y1="519.40" x2="382.50" y2="670.90" stroke="#6a6a6a" stroke-width="1"/>
<line x1="379.10" y1="519.40" x2="382.50" y2="519.40" stroke="#6a6a6a" stroke-width="1"/>
<text x="373.90" y="522.50" font-size="10.1" text-anchor="end" textLength="12.51" lengthAdjust="spacingAndGlyphs">0.3</text>
<line x1="379.10" y1="570.00" x2="382.50" y2="570.00" stroke="#6a6a6a" stroke-width="1"/>
<text x="373.90" y="573.10" font-size="10.1" text-anchor="end" textLength="12.51" lengthAdjust="spacingAndGlyphs">0.2</text>
<line x1="379.10" y1="620.40" x2="382.50" y2="620.40" stroke="#6a6a6a" stroke-width="1"/>
<text x="373.90" y="623.50" font-size="10.1" text-anchor="end" textLength="11.31" lengthAdjust="spacingAndGlyphs">0.1</text>
<line x1="379.10" y1="670.80" x2="382.50" y2="670.80" stroke="#6a6a6a" stroke-width="1"/>
<text x="373.90" y="673.90" font-size="10.1" text-anchor="end" textLength="5.00" lengthAdjust="spacingAndGlyphs">0</text>
<line x1="379.10" y1="670.90" x2="510.00" y2="670.90" stroke="#6a6a6a" stroke-width="1"/>
<line x1="389.60" y1="670.90" x2="389.60" y2="674.40" stroke="#6a6a6a" stroke-width="1"/>
<line x1="405.60" y1="670.90" x2="405.60" y2="674.40" stroke="#6a6a6a" stroke-width="1"/>
<line x1="421.60" y1="670.90" x2="421.60" y2="674.40" stroke="#6a6a6a" stroke-width="1"/>
<line x1="437.60" y1="670.90" x2="437.60" y2="674.40" stroke="#6a6a6a" stroke-width="1"/>
<line x1="453.60" y1="670.90" x2="453.60" y2="674.40" stroke="#6a6a6a" stroke-width="1"/>
<line x1="469.60" y1="670.90" x2="469.60" y2="674.40" stroke="#6a6a6a" stroke-width="1"/>
<line x1="485.60" y1="670.90" x2="485.60" y2="674.40" stroke="#6a6a6a" stroke-width="1"/>
<line x1="501.60" y1="670.90" x2="501.60" y2="674.40" stroke="#6a6a6a" stroke-width="1"/>
<text x="393.30" y="684.20" font-size="9.8" text-anchor="end" textLength="15.21" lengthAdjust="spacingAndGlyphs" transform="rotate(-45 393.30 684.20)">0–4</text>
<text x="409.30" y="684.20" font-size="9.8" text-anchor="end" textLength="15.21" lengthAdjust="spacingAndGlyphs" transform="rotate(-45 409.30 684.20)">5–9</text>
<text x="422.50" y="684.20" font-size="9.8" text-anchor="end" textLength="22.22" lengthAdjust="spacingAndGlyphs" transform="rotate(-45 422.50 684.20)">10–14</text>
<text x="438.50" y="684.20" font-size="9.8" text-anchor="end" textLength="22.22" lengthAdjust="spacingAndGlyphs" transform="rotate(-45 438.50 684.20)">15–19</text>
<text x="457.30" y="684.20" font-size="9.8" text-anchor="end" textLength="25.22" lengthAdjust="spacingAndGlyphs" transform="rotate(-45 457.30 684.20)">20–29</text>
<text x="473.30" y="684.20" font-size="9.8" text-anchor="end" textLength="25.22" lengthAdjust="spacingAndGlyphs" transform="rotate(-45 473.30 684.20)">30–39</text>
<text x="489.30" y="684.20" font-size="9.8" text-anchor="end" textLength="25.22" lengthAdjust="spacingAndGlyphs" transform="rotate(-45 489.30 684.20)">40–49</text>
<text x="505.30" y="684.20" font-size="9.8" text-anchor="end" textLength="25.22" lengthAdjust="spacingAndGlyphs" transform="rotate(-45 505.30 684.20)">50–59</text>
<text x="351.30" y="595.40" font-size="9.9" text-anchor="middle" textLength="50.20" lengthAdjust="spacingAndGlyphs" transform="rotate(-90 351.30 595.40)">Proportion</text>
<text x="445.40" y="718.40" font-size="10" text-anchor="middle" textLength="22.40" lengthAdjust="spacingAndGlyphs">Male</text>
<text x="445.00" y="731.20" font-size="10" text-anchor="middle" textLength="53.00" lengthAdjust="spacingAndGlyphs">Age (years)</text>
<polyline points="389.60,617.60 405.60,634.60 421.60,639.00 437.60,639.00 453.60,627.40 469.60,633.00 485.60,657.00 501.60,664.00" fill="none" stroke="#2a9ff0" stroke-width="1.0" stroke-opacity="0.2" stroke-linejoin="round"/>
<polyline points="389.60,617.60 405.60,634.00 421.60,639.50 437.60,639.50 453.60,627.40 469.60,635.00 485.60,657.50 501.60,664.00" fill="none" stroke="#2a9ff0" stroke-width="1.0" stroke-dasharray="3.4,1.6" stroke-opacity="0.2" stroke-linejoin="round"/>
<polyline points="389.60,619.00 405.60,636.00 421.60,643.00 437.60,643.00 453.60,620.60 469.60,633.00 485.60,657.00 501.60,664.00" fill="none" stroke="#e8805c" stroke-width="1.0" stroke-opacity="0.2" stroke-linejoin="round"/>
<polyline points="389.60,619.00 405.60,636.50 421.60,643.50 437.60,643.50 453.60,621.50 469.60,633.50 485.60,657.00 501.60,664.00" fill="none" stroke="#e8805c" stroke-width="1.0" stroke-dasharray="3.4,1.6" stroke-opacity="0.2" stroke-linejoin="round"/>
<line x1="389.60" y1="581.00" x2="389.60" y2="612.00" stroke="#2b2b2b" stroke-width="1.1"/>
<line x1="405.60" y1="620.00" x2="405.60" y2="643.00" stroke="#2b2b2b" stroke-width="1.1"/>
<line x1="421.60" y1="646.60" x2="421.60" y2="661.00" stroke="#2b2b2b" stroke-width="1.1"/>
<line x1="437.60" y1="632.00" x2="437.60" y2="652.60" stroke="#2b2b2b" stroke-width="1.1"/>
<line x1="453.60" y1="581.00" x2="453.60" y2="611.40" stroke="#2b2b2b" stroke-width="1.1"/>
<line x1="469.60" y1="616.00" x2="469.60" y2="640.00" stroke="#2b2b2b" stroke-width="1.1"/>
<line x1="485.60" y1="640.00" x2="485.60" y2="657.40" stroke="#2b2b2b" stroke-width="1.1"/>
<line x1="501.60" y1="647.00" x2="501.60" y2="663.00" stroke="#2b2b2b" stroke-width="1.1"/>
<circle cx="389.60" cy="595.60" r="2.9" fill="#000"/>
<circle cx="405.60" cy="632.40" r="2.9" fill="#000"/>
<circle cx="421.60" cy="654.40" r="2.9" fill="#000"/>
<circle cx="437.60" cy="643.40" r="2.9" fill="#000"/>
<circle cx="453.60" cy="595.60" r="2.9" fill="#000"/>
<circle cx="469.60" cy="628.40" r="2.9" fill="#000"/>
<circle cx="485.60" cy="650.40" r="2.9" fill="#000"/>
<circle cx="501.60" cy="656.00" r="2.9" fill="#000"/>
<polyline points="389.60,624.60 405.60,640.60 421.60,645.40 437.60,640.00 453.60,598.60 469.60,628.00 485.60,650.60 501.60,664.60" fill="none" stroke="#2a9ff0" stroke-width="1.1" stroke-dasharray="3.4,1.6" stroke-linejoin="round"/>
<polyline points="389.60,624.60 405.60,640.60 421.60,645.40 437.60,640.00 453.60,598.60 469.60,628.00 485.60,650.60 501.60,664.60" fill="none" stroke="#2a9ff0" stroke-width="1.1" stroke-linejoin="round"/>
<polyline points="389.60,624.00 405.60,639.00 421.60,645.40 437.60,642.00 453.60,600.00 469.60,628.00 485.60,651.00 501.60,665.40" fill="none" stroke="#e8805c" stroke-width="1.1" stroke-dasharray="3.4,1.6" stroke-linejoin="round"/>
<polyline points="389.60,624.00 405.60,639.00 421.60,645.40 437.60,642.00 453.60,600.00 469.60,628.00 485.60,651.00 501.60,665.40" fill="none" stroke="#e2764f" stroke-width="1.1" stroke-linejoin="round"/>
<line x1="555.50" y1="519.40" x2="555.50" y2="670.90" stroke="#6a6a6a" stroke-width="1"/>
<line x1="552.10" y1="519.40" x2="555.50" y2="519.40" stroke="#6a6a6a" stroke-width="1"/>
<text x="546.90" y="522.50" font-size="10.1" text-anchor="end" textLength="12.51" lengthAdjust="spacingAndGlyphs">0.3</text>
<line x1="552.10" y1="570.00" x2="555.50" y2="570.00" stroke="#6a6a6a" stroke-width="1"/>
<text x="546.90" y="573.10" font-size="10.1" text-anchor="end" textLength="12.51" lengthAdjust="spacingAndGlyphs">0.2</text>
<line x1="552.10" y1="620.40" x2="555.50" y2="620.40" stroke="#6a6a6a" stroke-width="1"/>
<text x="546.90" y="623.50" font-size="10.1" text-anchor="end" textLength="11.31" lengthAdjust="spacingAndGlyphs">0.1</text>
<line x1="552.10" y1="670.80" x2="555.50" y2="670.80" stroke="#6a6a6a" stroke-width="1"/>
<text x="546.90" y="673.90" font-size="10.1" text-anchor="end" textLength="5.00" lengthAdjust="spacingAndGlyphs">0</text>
<line x1="552.10" y1="670.90" x2="684.00" y2="670.90" stroke="#6a6a6a" stroke-width="1"/>
<line x1="565.40" y1="670.90" x2="565.40" y2="674.40" stroke="#6a6a6a" stroke-width="1"/>
<line x1="581.30" y1="670.90" x2="581.30" y2="674.40" stroke="#6a6a6a" stroke-width="1"/>
<line x1="597.20" y1="670.90" x2="597.20" y2="674.40" stroke="#6a6a6a" stroke-width="1"/>
<line x1="613.50" y1="670.90" x2="613.50" y2="674.40" stroke="#6a6a6a" stroke-width="1"/>
<line x1="629.30" y1="670.90" x2="629.30" y2="674.40" stroke="#6a6a6a" stroke-width="1"/>
<line x1="645.20" y1="670.90" x2="645.20" y2="674.40" stroke="#6a6a6a" stroke-width="1"/>
<line x1="661.10" y1="670.90" x2="661.10" y2="674.40" stroke="#6a6a6a" stroke-width="1"/>
<line x1="677.20" y1="670.90" x2="677.20" y2="674.40" stroke="#6a6a6a" stroke-width="1"/>
<text x="569.10" y="684.20" font-size="9.8" text-anchor="end" textLength="15.21" lengthAdjust="spacingAndGlyphs" transform="rotate(-45 569.10 684.20)">0–4</text>
<text x="585.00" y="684.20" font-size="9.8" text-anchor="end" textLength="15.21" lengthAdjust="spacingAndGlyphs" transform="rotate(-45 585.00 684.20)">5–9</text>
<text x="598.10" y="684.20" font-size="9.8" text-anchor="end" textLength="22.22" lengthAdjust="spacingAndGlyphs" transform="rotate(-45 598.10 684.20)">10–14</text>
<text x="614.40" y="684.20" font-size="9.8" text-anchor="end" textLength="22.22" lengthAdjust="spacingAndGlyphs" transform="rotate(-45 614.40 684.20)">15–19</text>
<text x="633.00" y="684.20" font-size="9.8" text-anchor="end" textLength="25.22" lengthAdjust="spacingAndGlyphs" transform="rotate(-45 633.00 684.20)">20–29</text>
<text x="648.90" y="684.20" font-size="9.8" text-anchor="end" textLength="25.22" lengthAdjust="spacingAndGlyphs" transform="rotate(-45 648.90 684.20)">30–39</text>
<text x="664.80" y="684.20" font-size="9.8" text-anchor="end" textLength="25.22" lengthAdjust="spacingAndGlyphs" transform="rotate(-45 664.80 684.20)">40–49</text>
<text x="680.90" y="684.20" font-size="9.8" text-anchor="end" textLength="25.22" lengthAdjust="spacingAndGlyphs" transform="rotate(-45 680.90 684.20)">50–59</text>
<text x="524.00" y="595.40" font-size="9.9" text-anchor="middle" textLength="50.20" lengthAdjust="spacingAndGlyphs" transform="rotate(-90 524.00 595.40)">Proportion</text>
<text x="619.90" y="718.40" font-size="10" text-anchor="middle" textLength="34.20" lengthAdjust="spacingAndGlyphs">Female</text>
<text x="619.90" y="731.20" font-size="10" text-anchor="middle" textLength="53.00" lengthAdjust="spacingAndGlyphs">Age (years)</text>
<polyline points="565.40,618.00 581.30,632.20 597.20,639.60 613.50,639.60 629.30,626.90 645.20,638.50 661.10,657.00 677.20,665.00" fill="none" stroke="#2a9ff0" stroke-width="1.0" stroke-opacity="0.2" stroke-linejoin="round"/>
<polyline points="565.40,618.00 581.30,632.50 597.20,640.00 613.50,640.00 629.30,626.90 645.20,639.00 661.10,657.50 677.20,665.00" fill="none" stroke="#2a9ff0" stroke-width="1.0" stroke-dasharray="3.4,1.6" stroke-opacity="0.2" stroke-linejoin="round"/>
<polyline points="565.40,620.50 581.30,635.30 597.20,642.70 613.50,642.70 629.30,620.50 645.20,632.20 661.10,657.00 677.20,665.00" fill="none" stroke="#e8805c" stroke-width="1.0" stroke-opacity="0.2" stroke-linejoin="round"/>
<polyline points="565.40,620.50 581.30,635.80 597.20,643.20 613.50,643.20 629.30,621.00 645.20,632.70 661.10,657.00 677.20,665.00" fill="none" stroke="#e8805c" stroke-width="1.0" stroke-dasharray="3.4,1.6" stroke-opacity="0.2" stroke-linejoin="round"/>
<line x1="565.40" y1="622.60" x2="565.40" y2="644.90" stroke="#2b2b2b" stroke-width="1.1"/>
<line x1="581.30" y1="638.50" x2="581.30" y2="656.00" stroke="#2b2b2b" stroke-width="1.1"/>
<line x1="597.20" y1="645.90" x2="597.20" y2="661.80" stroke="#2b2b2b" stroke-width="1.1"/>
<line x1="613.50" y1="631.00" x2="613.50" y2="651.60" stroke="#2b2b2b" stroke-width="1.1"/>
<line x1="629.30" y1="600.00" x2="629.30" y2="626.90" stroke="#2b2b2b" stroke-width="1.1"/>
<line x1="645.20" y1="637.40" x2="645.20" y2="655.90" stroke="#2b2b2b" stroke-width="1.1"/>
<line x1="661.10" y1="659.70" x2="661.10" y2="668.00" stroke="#2b2b2b" stroke-width="1.1"/>
<line x1="677.20" y1="662.80" x2="677.20" y2="670.00" stroke="#2b2b2b" stroke-width="1.1"/>
<circle cx="565.40" cy="634.30" r="2.9" fill="#000"/>
<circle cx="581.30" cy="648.00" r="2.9" fill="#000"/>
<circle cx="597.20" cy="655.00" r="2.9" fill="#000"/>
<circle cx="613.50" cy="642.30" r="2.9" fill="#000"/>
<circle cx="629.30" cy="613.50" r="2.9" fill="#000"/>
<circle cx="645.20" cy="648.00" r="2.9" fill="#000"/>
<circle cx="661.10" cy="665.00" r="2.9" fill="#000"/>
<circle cx="677.20" cy="667.70" r="2.9" fill="#000"/>
<polyline points="565.40,625.80 581.30,641.70 597.20,645.50 613.50,640.60 629.30,619.90 645.20,636.40 661.10,657.10 677.20,665.00" fill="none" stroke="#2a9ff0" stroke-width="1.1" stroke-dasharray="3.4,1.6" stroke-linejoin="round"/>
<polyline points="565.40,625.80 581.30,641.70 597.20,645.50 613.50,640.60 629.30,619.90 645.20,636.40 661.10,657.10 677.20,665.00" fill="none" stroke="#2a9ff0" stroke-width="1.1" stroke-linejoin="round"/>
<polyline points="565.40,624.70 581.30,643.20 597.20,646.50 613.50,642.30 629.30,618.40 645.20,634.30 661.10,657.10 677.20,664.30" fill="none" stroke="#e8805c" stroke-width="1.1" stroke-dasharray="3.4,1.6" stroke-linejoin="round"/>
<polyline points="565.40,624.70 581.30,643.20 597.20,646.50 613.50,642.30 629.30,618.40 645.20,634.30 661.10,657.10 677.20,664.30" fill="none" stroke="#e2764f" stroke-width="1.1" stroke-linejoin="round"/>
<line x1="69.50" y1="770.10" x2="69.50" y2="946.50" stroke="#6a6a6a" stroke-width="1"/>
<line x1="66.10" y1="770.10" x2="69.50" y2="770.10" stroke="#6a6a6a" stroke-width="1"/>
<text x="60.90" y="773.20" font-size="10.1" text-anchor="end" textLength="17.51" lengthAdjust="spacingAndGlyphs">0.20</text>
<line x1="66.10" y1="814.20" x2="69.50" y2="814.20" stroke="#6a6a6a" stroke-width="1"/>
<text x="60.90" y="817.30" font-size="10.1" text-anchor="end" textLength="16.31" lengthAdjust="spacingAndGlyphs">0.15</text>
<line x1="66.10" y1="858.30" x2="69.50" y2="858.30" stroke="#6a6a6a" stroke-width="1"/>
<text x="60.90" y="861.40" font-size="10.1" text-anchor="end" textLength="16.31" lengthAdjust="spacingAndGlyphs">0.10</text>
<line x1="66.10" y1="902.40" x2="69.50" y2="902.40" stroke="#6a6a6a" stroke-width="1"/>
<text x="60.90" y="905.50" font-size="10.1" text-anchor="end" textLength="17.51" lengthAdjust="spacingAndGlyphs">0.05</text>
<line x1="66.10" y1="946.40" x2="69.50" y2="946.40" stroke="#6a6a6a" stroke-width="1"/>
<text x="60.90" y="949.50" font-size="10.1" text-anchor="end" textLength="5.00" lengthAdjust="spacingAndGlyphs">0</text>
<line x1="66.10" y1="946.50" x2="341.00" y2="946.50" stroke="#6a6a6a" stroke-width="1"/>
<line x1="84.60" y1="946.50" x2="84.60" y2="950.00" stroke="#6a6a6a" stroke-width="1"/>
<line x1="119.40" y1="946.50" x2="119.40" y2="950.00" stroke="#6a6a6a" stroke-width="1"/>
<line x1="154.00" y1="946.50" x2="154.00" y2="950.00" stroke="#6a6a6a" stroke-width="1"/>
<line x1="188.50" y1="946.50" x2="188.50" y2="950.00" stroke="#6a6a6a" stroke-width="1"/>
<line x1="223.20" y1="946.50" x2="223.20" y2="950.00" stroke="#6a6a6a" stroke-width="1"/>
<line x1="257.50" y1="946.50" x2="257.50" y2="950.00" stroke="#6a6a6a" stroke-width="1"/>
<line x1="292.20" y1="946.50" x2="292.20" y2="950.00" stroke="#6a6a6a" stroke-width="1"/>
<line x1="326.70" y1="946.50" x2="326.70" y2="950.00" stroke="#6a6a6a" stroke-width="1"/>
<text x="84.60" y="961.70" font-size="9.8" text-anchor="middle" textLength="15.21" lengthAdjust="spacingAndGlyphs">0–4</text>
<text x="119.40" y="961.70" font-size="9.8" text-anchor="middle" textLength="15.21" lengthAdjust="spacingAndGlyphs">5–9</text>
<text x="154.00" y="961.70" font-size="9.8" text-anchor="middle" textLength="22.22" lengthAdjust="spacingAndGlyphs">10–14</text>
<text x="188.50" y="961.70" font-size="9.8" text-anchor="middle" textLength="22.22" lengthAdjust="spacingAndGlyphs">15–19</text>
<text x="223.20" y="961.70" font-size="9.8" text-anchor="middle" textLength="25.22" lengthAdjust="spacingAndGlyphs">20–29</text>
<text x="257.50" y="961.70" font-size="9.8" text-anchor="middle" textLength="25.22" lengthAdjust="spacingAndGlyphs">30–39</text>
<text x="292.20" y="961.70" font-size="9.8" text-anchor="middle" textLength="25.22" lengthAdjust="spacingAndGlyphs">40–49</text>
<text x="326.70" y="961.70" font-size="9.8" text-anchor="middle" textLength="25.22" lengthAdjust="spacingAndGlyphs">50–59</text>
<text x="32.80" y="857.90" font-size="9.9" text-anchor="middle" textLength="50.20" lengthAdjust="spacingAndGlyphs" transform="rotate(-90 32.80 857.90)">Proportion</text>
<text x="207.70" y="977.50" font-size="10" text-anchor="middle" textLength="22.40" lengthAdjust="spacingAndGlyphs">Male</text>
<text x="207.80" y="990.00" font-size="10" text-anchor="middle" textLength="53.00" lengthAdjust="spacingAndGlyphs">Age (years)</text>
<polyline points="84.60,861.00 119.40,881.00 154.00,888.00 188.50,887.40 223.20,878.00 257.50,877.00 292.20,916.00 326.70,933.00" fill="none" stroke="#2a9ff0" stroke-width="1.0" stroke-opacity="0.2" stroke-linejoin="round"/>
<polyline points="84.60,861.00 119.40,880.00 154.00,886.60 188.50,889.00 223.20,877.00 257.50,883.00 292.20,917.00 326.70,933.00" fill="none" stroke="#2a9ff0" stroke-width="1.0" stroke-dasharray="3.4,1.6" stroke-opacity="0.2" stroke-linejoin="round"/>
<polyline points="84.60,862.40 119.40,884.00 154.00,893.60 188.50,894.40 223.20,869.00 257.50,873.00 292.20,916.00 326.70,933.00" fill="none" stroke="#e8805c" stroke-width="1.0" stroke-opacity="0.2" stroke-linejoin="round"/>
<polyline points="84.60,862.40 119.40,884.50 154.00,894.00 188.50,895.00 223.20,866.40 257.50,874.00 292.20,917.00 326.70,933.00" fill="none" stroke="#e8805c" stroke-width="1.0" stroke-dasharray="3.4,1.6" stroke-opacity="0.2" stroke-linejoin="round"/>
<line x1="84.60" y1="837.70" x2="84.60" y2="872.00" stroke="#2b2b2b" stroke-width="1.1"/>
<line x1="119.40" y1="861.60" x2="119.40" y2="891.60" stroke="#2b2b2b" stroke-width="1.1"/>
<line x1="154.00" y1="910.00" x2="154.00" y2="929.00" stroke="#2b2b2b" stroke-width="1.1"/>
<line x1="188.50" y1="913.60" x2="188.50" y2="931.60" stroke="#2b2b2b" stroke-width="1.1"/>
<line x1="223.20" y1="812.00" x2="223.20" y2="850.40" stroke="#2b2b2b" stroke-width="1.1"/>
<line x1="257.50" y1="864.00" x2="257.50" y2="893.60" stroke="#2b2b2b" stroke-width="1.1"/>
<line x1="292.20" y1="895.20" x2="292.20" y2="918.20" stroke="#2b2b2b" stroke-width="1.1"/>
<line x1="326.70" y1="931.80" x2="326.70" y2="942.00" stroke="#2b2b2b" stroke-width="1.1"/>
<circle cx="84.60" cy="855.00" r="2.9" fill="#000"/>
<circle cx="119.40" cy="877.40" r="2.9" fill="#000"/>
<circle cx="154.00" cy="921.40" r="2.9" fill="#000"/>
<circle cx="188.50" cy="924.00" r="2.9" fill="#000"/>
<circle cx="223.20" cy="831.40" r="2.9" fill="#000"/>
<circle cx="257.50" cy="879.40" r="2.9" fill="#000"/>
<circle cx="292.20" cy="908.20" r="2.9" fill="#000"/>
<circle cx="326.70" cy="939.00" r="2.9" fill="#000"/>
<polyline points="84.60,875.00 119.40,898.60 154.00,902.00 188.50,897.00 223.20,833.60 257.50,878.00 292.20,910.30 326.70,935.00" fill="none" stroke="#2a9ff0" stroke-width="1.1" stroke-linejoin="round"/>
<polyline points="84.60,875.00 119.40,898.00 154.00,901.00 188.50,899.60 223.20,833.00 257.50,879.00 292.20,910.00 326.70,935.00" fill="none" stroke="#2a9ff0" stroke-width="1.1" stroke-dasharray="3.4,1.6" stroke-linejoin="round"/>
<polyline points="84.60,874.00 119.40,896.00 154.00,904.00 188.50,901.00 223.20,831.40 257.50,878.00 292.20,909.00 326.70,935.50" fill="none" stroke="#e8805c" stroke-width="1.1" stroke-linejoin="round"/>
<polyline points="84.60,873.60 119.40,895.00 154.00,904.40 188.50,904.40 223.20,831.40 257.50,878.00 292.20,909.00 326.70,935.50" fill="none" stroke="#e8805c" stroke-width="1.1" stroke-dasharray="3.4,1.6" stroke-linejoin="round"/>
<line x1="405.50" y1="770.00" x2="405.50" y2="946.00" stroke="#6a6a6a" stroke-width="1"/>
<line x1="402.10" y1="770.00" x2="405.50" y2="770.00" stroke="#6a6a6a" stroke-width="1"/>
<text x="396.90" y="773.10" font-size="10.1" text-anchor="end" textLength="17.51" lengthAdjust="spacingAndGlyphs">0.20</text>
<line x1="402.10" y1="814.20" x2="405.50" y2="814.20" stroke="#6a6a6a" stroke-width="1"/>
<text x="396.90" y="817.30" font-size="10.1" text-anchor="end" textLength="16.31" lengthAdjust="spacingAndGlyphs">0.15</text>
<line x1="402.10" y1="858.30" x2="405.50" y2="858.30" stroke="#6a6a6a" stroke-width="1"/>
<text x="396.90" y="861.40" font-size="10.1" text-anchor="end" textLength="16.31" lengthAdjust="spacingAndGlyphs">0.10</text>
<line x1="402.10" y1="902.30" x2="405.50" y2="902.30" stroke="#6a6a6a" stroke-width="1"/>
<text x="396.90" y="905.40" font-size="10.1" text-anchor="end" textLength="17.51" lengthAdjust="spacingAndGlyphs">0.05</text>
<line x1="402.10" y1="946.00" x2="405.50" y2="946.00" stroke="#6a6a6a" stroke-width="1"/>
<text x="396.90" y="949.10" font-size="10.1" text-anchor="end" textLength="5.00" lengthAdjust="spacingAndGlyphs">0</text>
<line x1="402.10" y1="946.00" x2="679.00" y2="946.00" stroke="#6a6a6a" stroke-width="1"/>
<line x1="421.60" y1="946.00" x2="421.60" y2="949.50" stroke="#6a6a6a" stroke-width="1"/>
<line x1="456.40" y1="946.00" x2="456.40" y2="949.50" stroke="#6a6a6a" stroke-width="1"/>
<line x1="490.60" y1="946.00" x2="490.60" y2="949.50" stroke="#6a6a6a" stroke-width="1"/>
<line x1="525.30" y1="946.00" x2="525.30" y2="949.50" stroke="#6a6a6a" stroke-width="1"/>
<line x1="560.00" y1="946.00" x2="560.00" y2="949.50" stroke="#6a6a6a" stroke-width="1"/>
<line x1="594.50" y1="946.00" x2="594.50" y2="949.50" stroke="#6a6a6a" stroke-width="1"/>
<line x1="629.20" y1="946.00" x2="629.20" y2="949.50" stroke="#6a6a6a" stroke-width="1"/>
<line x1="663.60" y1="946.00" x2="663.60" y2="949.50" stroke="#6a6a6a" stroke-width="1"/>
<text x="421.60" y="961.20" font-size="9.8" text-anchor="middle" textLength="15.21" lengthAdjust="spacingAndGlyphs">0–4</text>
<text x="456.40" y="961.20" font-size="9.8" text-anchor="middle" textLength="15.21" lengthAdjust="spacingAndGlyphs">5–9</text>
<text x="490.60" y="961.20" font-size="9.8" text-anchor="middle" textLength="22.22" lengthAdjust="spacingAndGlyphs">10–14</text>
<text x="525.30" y="961.20" font-size="9.8" text-anchor="middle" textLength="22.22" lengthAdjust="spacingAndGlyphs">15–19</text>
<text x="560.00" y="961.20" font-size="9.8" text-anchor="middle" textLength="25.22" lengthAdjust="spacingAndGlyphs">20–29</text>
<text x="594.50" y="961.20" font-size="9.8" text-anchor="middle" textLength="25.22" lengthAdjust="spacingAndGlyphs">30–39</text>
<text x="629.20" y="961.20" font-size="9.8" text-anchor="middle" textLength="25.22" lengthAdjust="spacingAndGlyphs">40–49</text>
<text x="663.60" y="961.20" font-size="9.8" text-anchor="middle" textLength="25.22" lengthAdjust="spacingAndGlyphs">50–59</text>
<text x="368.90" y="857.90" font-size="9.9" text-anchor="middle" textLength="50.20" lengthAdjust="spacingAndGlyphs" transform="rotate(-90 368.90 857.90)">Proportion</text>
<text x="542.70" y="977.50" font-size="10" text-anchor="middle" textLength="34.20" lengthAdjust="spacingAndGlyphs">Female</text>
<text x="542.70" y="990.00" font-size="10" text-anchor="middle" textLength="53.00" lengthAdjust="spacingAndGlyphs">Age (years)</text>
<polyline points="421.60,861.00 456.40,879.60 490.60,888.00 525.30,888.00 560.00,877.60 594.50,877.00 629.20,918.00 663.60,933.70" fill="none" stroke="#2a9ff0" stroke-width="1.0" stroke-opacity="0.2" stroke-linejoin="round"/>
<polyline points="421.60,861.00 456.40,879.00 490.60,887.00 525.30,887.00 560.00,877.00 594.50,882.00 629.20,918.50 663.60,933.70" fill="none" stroke="#2a9ff0" stroke-width="1.0" stroke-dasharray="3.4,1.6" stroke-opacity="0.2" stroke-linejoin="round"/>
<polyline points="421.60,862.00 456.40,884.00 490.60,894.00 525.30,895.00 560.00,869.90 594.50,872.30 629.20,918.00 663.60,933.70" fill="none" stroke="#e8805c" stroke-width="1.0" stroke-opacity="0.2" stroke-linejoin="round"/>
<polyline points="421.60,862.00 456.40,884.50 490.60,894.50 525.30,895.50 560.00,866.30 594.50,873.00 629.20,918.00 663.60,933.70" fill="none" stroke="#e8805c" stroke-width="1.0" stroke-dasharray="3.4,1.6" stroke-opacity="0.2" stroke-linejoin="round"/>
<line x1="421.60" y1="826.00" x2="421.60" y2="861.00" stroke="#2b2b2b" stroke-width="1.1"/>
<line x1="456.40" y1="867.00" x2="456.40" y2="896.00" stroke="#2b2b2b" stroke-width="1.1"/>
<line x1="490.60" y1="898.00" x2="490.60" y2="920.40" stroke="#2b2b2b" stroke-width="1.1"/>
<line x1="525.30" y1="892.00" x2="525.30" y2="916.00" stroke="#2b2b2b" stroke-width="1.1"/>
<line x1="560.00" y1="792.50" x2="560.00" y2="831.80" stroke="#2b2b2b" stroke-width="1.1"/>
<line x1="594.50" y1="884.30" x2="594.50" y2="907.20" stroke="#2b2b2b" stroke-width="1.1"/>
<line x1="629.20" y1="928.40" x2="629.20" y2="939.80" stroke="#2b2b2b" stroke-width="1.1"/>
<line x1="663.60" y1="937.00" x2="663.60" y2="944.00" stroke="#2b2b2b" stroke-width="1.1"/>
<circle cx="421.60" cy="843.50" r="2.9" fill="#000"/>
<circle cx="456.40" cy="882.00" r="2.9" fill="#000"/>
<circle cx="490.60" cy="911.00" r="2.9" fill="#000"/>
<circle cx="525.30" cy="905.30" r="2.9" fill="#000"/>
<circle cx="560.00" cy="810.80" r="2.9" fill="#000"/>
<circle cx="594.50" cy="895.20" r="2.9" fill="#000"/>
<circle cx="629.20" cy="936.10" r="2.9" fill="#000"/>
<circle cx="663.60" cy="941.00" r="2.9" fill="#000"/>
<polyline points="421.60,875.00 456.40,899.00 490.60,902.00 525.30,895.00 560.00,814.00 594.50,885.50 629.20,920.50 663.60,936.00" fill="none" stroke="#2a9ff0" stroke-width="1.1" stroke-linejoin="round"/>
<polyline points="421.60,875.00 456.40,898.00 490.60,901.00 525.30,896.00 560.00,814.00 594.50,888.00 629.20,920.50 663.60,936.00" fill="none" stroke="#2a9ff0" stroke-width="1.1" stroke-dasharray="3.4,1.6" stroke-linejoin="round"/>
<polyline points="421.60,873.60 456.40,895.60 490.60,904.00 525.30,900.00 560.00,812.00 594.50,883.00 629.20,920.50 663.60,936.50" fill="none" stroke="#e8805c" stroke-width="1.1" stroke-linejoin="round"/>
<polyline points="421.60,873.00 456.40,895.00 490.60,904.50 525.30,901.00 560.00,812.00 594.50,884.00 629.20,920.50 663.60,936.50" fill="none" stroke="#e8805c" stroke-width="1.1" stroke-dasharray="3.4,1.6" stroke-linejoin="round"/>
</svg></body></html>
